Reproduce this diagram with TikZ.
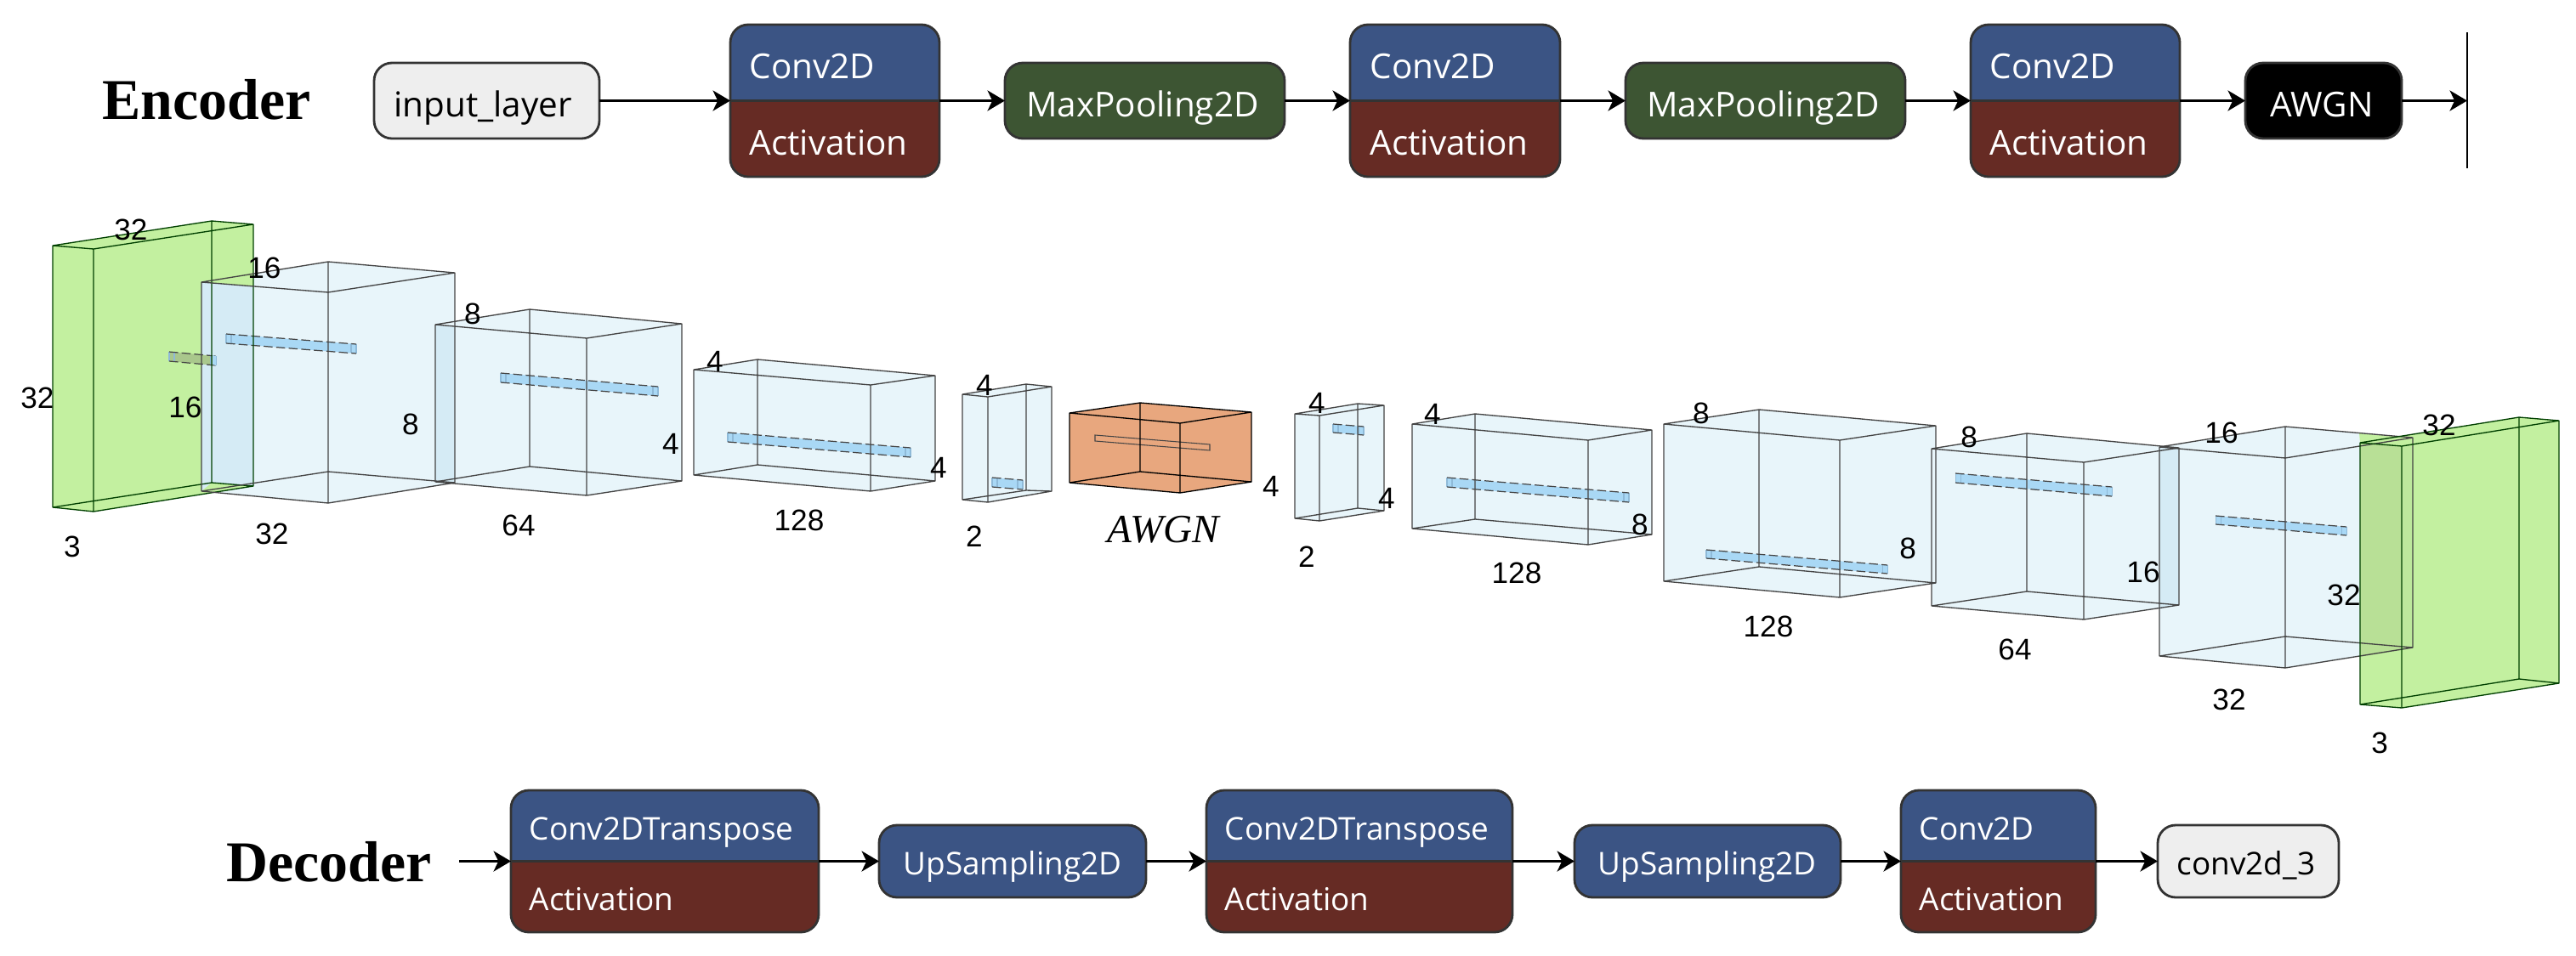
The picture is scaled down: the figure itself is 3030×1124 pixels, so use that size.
\documentclass[tikz,border=0pt]{standalone}
\usepackage{fontspec}
\setmainfont{Liberation Sans}
\newfontfamily\uifont{Open Sans}
\newfontfamily\capfont{Liberation Serif}
\usetikzlibrary{arrows.meta,calc}
\definecolor{cblue}{HTML}{3B5484}
\definecolor{cbrown}{HTML}{662B24}
\definecolor{cgreen}{HTML}{3D5533}
\definecolor{clight}{HTML}{EEEEEE}
\definecolor{cedge}{HTML}{333333}
\definecolor{vollight}{HTML}{E8F5FA}
\definecolor{volstrip}{HTML}{D5EBF5}
\definecolor{volgreen}{HTML}{C3F0A0}
\definecolor{voldark}{HTML}{B8E096}
\definecolor{volmid}{HTML}{BDE89C}
\definecolor{volorange}{HTML}{E8A77E}
\definecolor{barblue}{HTML}{A9D8F5}
\definecolor{barolive}{HTML}{A9C78C}
\definecolor{barside}{HTML}{8FBAD8}
\definecolor{lineg}{HTML}{444444}
\tikzset{
  laybase/.style={draw=cedge,line width=.8pt,rounded corners=6pt,inner sep=0pt,outer sep=0pt},
  conn/.style={draw=black,line width=1pt,-{Stealth[length=5.8pt,width=6.8pt,inset=1.6pt]}},
  ltxt/.style={font=\uifont\fontsize{11.5}{14}\selectfont,inner sep=0pt,text=white},
  dtxt/.style={font=\uifont\fontsize{10.5}{13}\selectfont,inner sep=0pt,text=white},
  dim/.style={font=\fontsize{10}{12}\selectfont,inner sep=0pt,text=black},
  captxt/.style={font=\capfont\bfseries\fontsize{19.3}{22}\selectfont,inner sep=0pt,anchor=base west},
  edge/.style={draw=lineg,line width=.38pt,line join=round},
}
% plain coloured block
\newcommand\laybox[6]{\node[laybase,fill=#6,minimum width={(#4-#2)*0.01cm},minimum height={(#5-#3)*0.01cm}] (#1) at ({(#2+#4)/2},{(#3+#5)/2}) {};}
% two-coloured block
\newcommand\laystack[5]{\node[laybase,minimum width={(#4-#2)*0.01cm},minimum height={(#5-#3)*0.01cm},
  path picture={
    \fill[cblue,sharp corners] (path picture bounding box.north west) rectangle (path picture bounding box.east);
    \fill[cbrown,sharp corners] (path picture bounding box.west) rectangle (path picture bounding box.south east);
    \draw[cedge,line width=.6pt,sharp corners] (path picture bounding box.west) -- (path picture bounding box.east);
  }] (#1) at ({(#2+#4)/2},{(#3+#5)/2}) {};}
% a volume: name, top A D C B, bottom A D C B
\def\defvol#1#2#3#4#5#6#7#8#9{%
  \coordinate (#1-a) at #2; \coordinate (#1-d) at #3; \coordinate (#1-c) at #4; \coordinate (#1-b) at #5;
  \coordinate (#1-ab) at #6; \coordinate (#1-db) at #7; \coordinate (#1-cb) at #8; \coordinate (#1-bb) at #9;}
\newcommand\volfill[2]{\fill[#2] (#1-a) -- (#1-b) -- (#1-c) -- (#1-cb) -- (#1-db) -- (#1-ab) -- cycle;}
\newcommand\voledge[2][]{\path[edge,#1]
  (#2-a) -- (#2-d) -- (#2-c) -- (#2-b) -- cycle
  (#2-ab) -- (#2-db) -- (#2-cb) -- (#2-bb) -- cycle
  (#2-a) -- (#2-ab) (#2-d) -- (#2-db) (#2-c) -- (#2-cb) (#2-b) -- (#2-bb);}
% a filter bar: x1 y1 x2 y2 thickness fill
\newcommand\featbar[6][barblue]{%
  \fill[#1] (#2,#3) -- (#4,#5) -- (#4,#5+#6) -- (#2,#3+#6) -- cycle;
  \draw[barside,line width=.3pt] (#2,#3) -- (#2,#3+#6) (#2+6,#3+1) -- (#2+6,#3+#6+1) (#4-6,#5-1) -- (#4-6,#5+#6-1) (#4,#5) -- (#4,#5+#6);
  \draw[lineg,line width=.35pt,dash pattern=on 3pt off 1.2pt] (#2,#3) -- (#4,#5) (#2,#3+#6) -- (#4,#5+#6);}
\begin{document}
\begin{tikzpicture}[x=0.01cm,y=-0.01cm]
\useasboundingbox (0,0) rectangle (3030,1124);
\fill[white] (0,0) rectangle (3030,1124);

% ---------- Encoder row
\node[captxt] (enccap) at (120,140) {Encoder};
\laybox{inp}{440}{74}{705}{163}{clight}
\laystack{ec1}{859}{29}{1105}{208}
\laybox{mp1}{1182}{74}{1511}{163}{cgreen}
\laystack{ec2}{1588}{29}{1835}{208}
\laybox{mp2}{1912}{74}{2241}{163}{cgreen}
\laystack{ec3}{2318}{29}{2564}{208}
\laybox{awgn}{2641}{74}{2825}{163}{black}
\coordinate (bartop) at (2902,38);
\coordinate (barbot) at (2902,198);
\coordinate (barmid) at (2902,118.5);
\draw[black,line width=.6pt] (bartop) -- (barbot);
\draw[conn] (inp) -- (ec1);
\draw[conn] (ec1) -- (mp1);
\draw[conn] (mp1) -- (ec2);
\draw[conn] (ec2) -- (mp2);
\draw[conn] (mp2) -- (ec3);
\draw[conn] (ec3) -- (awgn);
\draw[conn] (awgn) -- (barmid);
\node[ltxt,text=black,anchor=base] (tinp) at (568,137) {input\_layer};
\node[ltxt,anchor=base west] (t1) at (881,92) {Conv2D};
\node[ltxt,anchor=base west] (t2) at (881,182) {Activation};
\node[ltxt,anchor=base] (t3) at (1344,137) {MaxPooling2D};
\node[ltxt,anchor=base west] (t4) at (1611,92) {Conv2D};
\node[ltxt,anchor=base west] (t5) at (1611,182) {Activation};
\node[ltxt,anchor=base] (t6) at (2074,137) {MaxPooling2D};
\node[ltxt,anchor=base west] (t7) at (2340,92) {Conv2D};
\node[ltxt,anchor=base west] (t8) at (2340,182) {Activation};
\node[ltxt,anchor=base] (t9) at (2731,137) {AWGN};

% ---------- Decoder row
\node[captxt] (deccap) at (266,1037) {Decoder};
\coordinate (dstart) at (540,1013.5);
\laystack{dc1}{601}{930}{963}{1097}
\laybox{up1}{1034}{971}{1348}{1056}{cblue}
\laystack{dc2}{1419}{930}{1779}{1097}
\laybox{up2}{1852}{971}{2165}{1056}{cblue}
\laystack{dc3}{2236}{930}{2465}{1097}
\laybox{out}{2538}{971}{2751}{1056}{clight}
\draw[conn] (dstart) -- (dc1);
\draw[conn] (dc1) -- (up1);
\draw[conn] (up1) -- (dc2);
\draw[conn] (dc2) -- (up2);
\draw[conn] (up2) -- (dc3);
\draw[conn] (dc3) -- (out);
\node[dtxt,anchor=base west] (u1) at (622,988) {Conv2DTranspose};
\node[dtxt,anchor=base west] (u2) at (622,1071) {Activation};
\node[dtxt,anchor=base] (u3) at (1191,1029) {UpSampling2D};
\node[dtxt,anchor=base west] (u4) at (1440,988) {Conv2DTranspose};
\node[dtxt,anchor=base west] (u5) at (1440,1071) {Activation};
\node[dtxt,anchor=base] (u6) at (2008,1029) {UpSampling2D};
\node[dtxt,anchor=base west] (u7) at (2257,988) {Conv2D};
\node[dtxt,anchor=base west] (u8) at (2257,1071) {Activation};
\node[dtxt,text=black,anchor=base] (u9) at (2642,1029) {conv2d\_3};

% ---------- Volumes
\defvol{g1}{(62,289)}{(110,293)}{(298,264)}{(249,260)}{(62,597)}{(110,602)}{(298,572)}{(249,568)}
\defvol{b1}{(237,332)}{(386,344)}{(535,321)}{(386,308)}{(237,578)}{(386,592)}{(535,568)}{(386,555)}
\defvol{b2}{(512,382)}{(690,398)}{(802,381)}{(623,364)}{(512,567)}{(690,583)}{(802,566)}{(623,549)}
\defvol{b3}{(816,435)}{(1024,453)}{(1100,442)}{(891,423)}{(816,559)}{(1024,578)}{(1100,566)}{(891,547)}
\defvol{b4}{(1132,464)}{(1162,467)}{(1237,455)}{(1207,452)}{(1132,588)}{(1162,591)}{(1237,578)}{(1207,577)}
\defvol{o1}{(1258,486)}{(1388,498)}{(1472,485)}{(1341,474)}{(1258,568)}{(1388,580)}{(1472,567)}{(1341,555)}
\defvol{b5}{(1523,487)}{(1552,489)}{(1628,477)}{(1597,475)}{(1523,610)}{(1552,613)}{(1628,601)}{(1597,598)}
\defvol{b6}{(1661,499)}{(1868,518)}{(1943,506)}{(1735,487)}{(1661,622)}{(1868,641)}{(1943,629)}{(1735,611)}
\defvol{b7}{(1957,499)}{(2164,518)}{(2277,501)}{(2069,482)}{(1957,684)}{(2164,703)}{(2277,686)}{(2069,667)}
\defvol{b8}{(2272,528)}{(2451,544)}{(2563,527)}{(2384,510)}{(2272,713)}{(2451,729)}{(2563,712)}{(2384,696)}
\defvol{b9}{(2540,526)}{(2688,539)}{(2838,515)}{(2688,502)}{(2540,772)}{(2688,786)}{(2838,762)}{(2688,749)}
\defvol{g2}{(2776,521)}{(2825,525)}{(3010,495)}{(2963,491)}{(2776,829)}{(2825,833)}{(3010,804)}{(2963,799)}

\volfill{g1}{volgreen}
\volfill{b1}{vollight}
\fill[volstrip] (237,332) -- (298,337) -- (298,572) -- (249,568) -- (237,578) -- cycle;
\fill[volgreen] (237,332) -- (298,322) -- (298,337) -- cycle;
\fill[volgreen] (237,578) -- (237,582) -- (298,572) -- (249,568) -- cycle;
\volfill{b2}{vollight}
\fill[volstrip] (512,382) -- (535,385) -- (535,568) -- (512,567) -- cycle;
\volfill{b3}{vollight}
\volfill{b4}{vollight}
\volfill{o1}{volorange}
\volfill{b5}{vollight}
\volfill{b6}{vollight}
\volfill{b7}{vollight}
\volfill{b8}{vollight}
\volfill{b9}{vollight}
\fill[volstrip] (2540,526) -- (2563,528) -- (2563,712) -- (2540,716) -- cycle;
\volfill{g2}{volgreen}
\fill[volgreen] (2775,510) -- (2838,515) -- (2776,521) -- cycle;
\fill[voldark] (2776,521) -- (2825,525) -- (2825,765) -- (2776,773) -- cycle;
\fill[volmid] (2825,525) -- (2838,523) -- (2838,762) -- (2825,765) -- cycle;

% bars under the lines
\featbar[barolive]{199}{414}{254}{419}{11}
\fill[barblue] (250,418) -- (254,419) -- (254,430) -- (250,429) -- cycle;
\featbar{266}{393}{419}{405}{11}
\featbar{589}{439}{774}{455}{11}
\featbar{856}{509}{1071}{527}{11}
\featbar{1167}{562}{1203}{565}{11}
\draw[lineg,line width=.3pt,fill=volorange] (1288,512) -- (1423,523) -- (1423,530) -- (1288,519) -- cycle;
\featbar{1568}{499}{1604}{502}{10}
\featbar{1702}{562}{1916}{580}{11}
\featbar{2007}{647}{2220}{665}{10}
\featbar{2300}{557}{2484}{573}{11}
\featbar{2606}{607}{2760}{620}{10}

\voledge[draw=black!75!green]{g1}
\voledge{b1}
\voledge{b2}
\voledge{b3}
\voledge{b4}
\voledge[draw=black]{o1}
\voledge{b5}
\voledge{b6}
\voledge{b7}
\voledge{b8}
\voledge{b9}
\voledge[draw=black!75!green]{g2}

% ---------- Dimension labels
\node[dim] (a1) at (154,270) {32};
\node[dim] (a2) at (44,468) {32};
\node[dim] (a3) at (85,643) {3};
\node[dim] (a4) at (218,479) {16};
\node[dim] (a5) at (311,315) {16};
\node[dim] (a6) at (483,499) {8};
\node[dim] (a7) at (320,628) {32};
\node[dim] (a8) at (556,369) {8};
\node[dim] (a9) at (789,522) {4};
\node[dim] (a10) at (610,618) {64};
\node[dim] (a11) at (841,425) {4};
\node[dim] (a12) at (1104,550) {4};
\node[dim] (a13) at (940,612) {128};
\node[dim] (a14) at (1158,453) {4};
\node[dim] (a15) at (1146,631) {2};
\node[font=\capfont\itshape\fontsize{13.4}{16}\selectfont,inner sep=0pt] (a16) at (1368,623) {AWGN};
\node[dim] (a17) at (1495,572) {4};
\node[dim] (a18) at (1549,474) {4};
\node[dim] (a19) at (1631,586) {4};
\node[dim] (a20) at (1537,655) {2};
\node[dim] (a21) at (1685,487) {4};
\node[dim] (a22) at (1929,617) {8};
\node[dim] (a23) at (1784,674) {128};
\node[dim] (a24) at (2001,486) {8};
\node[dim] (a25) at (2244,645) {8};
\node[dim] (a26) at (2080,737) {128};
\node[dim] (a27) at (2316,514) {8};
\node[dim] (a28) at (2521,673) {16};
\node[dim] (a29) at (2370,764) {64};
\node[dim] (a30) at (2613,509) {16};
\node[dim] (a31) at (2757,700) {32};
\node[dim] (a32) at (2622,823) {32};
\node[dim] (a33) at (2869,500) {32};
\node[dim] (a34) at (2799,874) {3};
\end{tikzpicture}
\end{document}
